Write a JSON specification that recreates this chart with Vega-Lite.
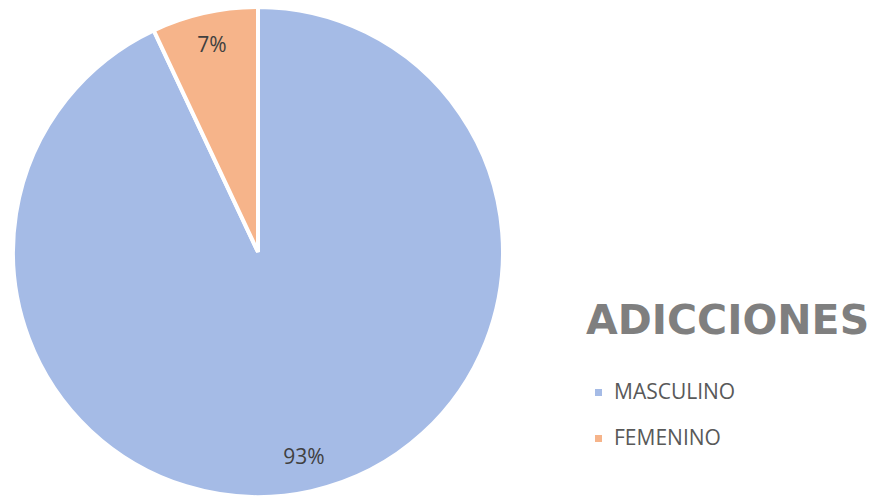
{
  "$schema": "https://vega.github.io/schema/vega-lite/v6.json",
  "width": 516,
  "height": 494,
  "autosize": "none",
  "padding": {"left": 0, "top": 5, "right": 355, "bottom": 0},
  "background": "white",
  "data": {"values": [
    {"sexo": "MASCULINO", "valor": 93, "etiqueta": "93%", "orden": 1},
    {"sexo": "FEMENINO", "valor": 7, "etiqueta": "7%", "orden": 2}
  ]},
  "encoding": {
    "theta": {"field": "valor", "type": "quantitative", "stack": true},
    "order": {"field": "orden", "type": "quantitative"}
  },
  "layer": [
    {
      "mark": {"type": "arc", "outerRadius": 245, "stroke": "white", "strokeWidth": 4},
      "encoding": {
        "color": {
          "field": "sexo",
          "type": "nominal",
          "scale": {"domain": ["MASCULINO", "FEMENINO"], "range": ["#a5bbe6", "#f6b48a"]},
          "legend": {
            "title": "ADICCIONES",
            "orient": "none",
            "legendX": 586,
            "legendY": 297,
            "titleFont": "DejaVu Sans",
            "titleFontSize": 41,
            "titleFontWeight": "bold",
            "titleColor": "#7f7f7f",
            "titleLimit": 500,
            "titlePadding": 39,
            "labelFont": "Open Sans",
            "labelFontSize": 21,
            "labelColor": "#595959",
            "labelOffset": 5,
            "labelLimit": 300,
            "symbolType": "square",
            "symbolSize": 49,
            "symbolOffset": 2,
            "symbolStrokeWidth": 0,
            "rowPadding": 24
          }
        }
      }
    },
    {
      "mark": {"type": "text", "radius": 211, "font": "Open Sans", "fontSize": 21, "fill": "#404040", "baseline": "middle", "align": "center"},
      "encoding": {
        "text": {"field": "etiqueta", "type": "nominal"}
      }
    }
  ]
}
